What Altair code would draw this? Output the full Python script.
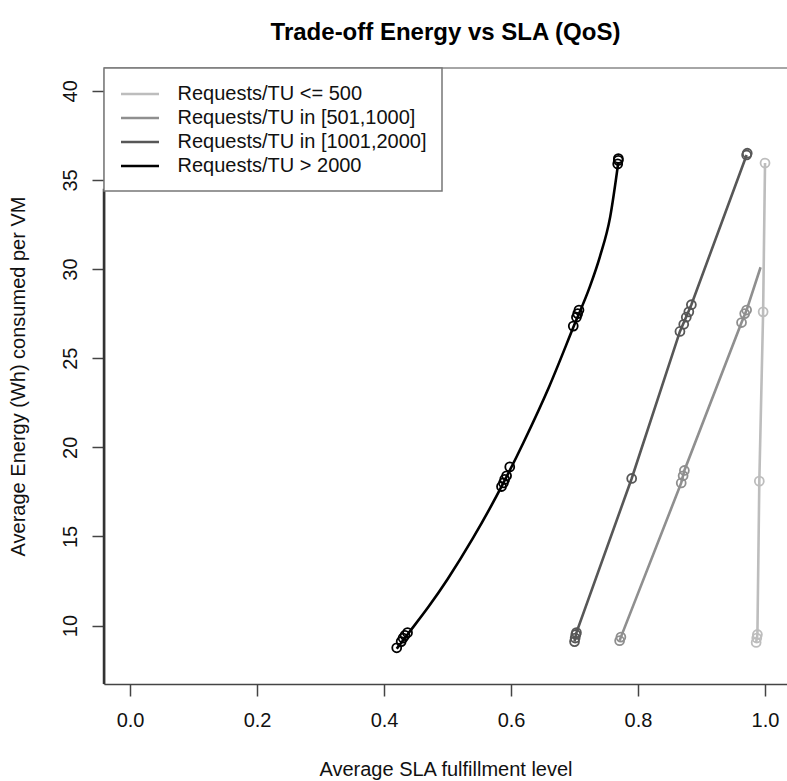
import altair as alt
import pandas as pd

FONT = "Liberation Sans"

SERIES = ["Requests/TU <= 500", "Requests/TU in [501,1000]",
          "Requests/TU in [1001,2000]", "Requests/TU > 2000"]
COLORS = ["#bdbdbd", "#8f8f8f", "#575757", "#000000"]

# fitted curves (x = SLA fulfillment, y = energy Wh)
LINE_LE500_X = [0.986, 0.988, 0.991, 0.997, 1.000]
LINE_LE500_Y = [9.05, 9.5, 18.1, 27.6, 35.95]
LINE_501_X = [0.771, 0.773, 0.868, 0.873, 0.963, 0.971, 0.993]
LINE_501_Y = [9.15, 9.35, 18.0, 18.7, 27.0, 27.7, 30.1]
LINE_1001_X = [0.700, 0.703, 0.790, 0.866, 0.884, 0.971]
LINE_1001_Y = [9.1, 9.6, 18.25, 26.5, 28.0, 36.4]
LINE_GT2000_X = [0.420, 0.437, 0.47, 0.50, 0.54, 0.588, 0.62, 0.66, 0.70, 0.724, 0.740, 0.756, 0.769]
LINE_GT2000_Y = [8.7, 9.5, 11.05, 12.6, 14.9, 18.0, 20.3, 23.4, 26.9, 29.0, 30.7, 32.9, 36.0]

# observed points
PTS_LE500_X = [0.986, 0.987, 0.988, 0.991, 0.997, 1.000]
PTS_LE500_Y = [9.05, 9.3, 9.5, 18.1, 27.6, 35.95]
PTS_501_X = [0.771, 0.773, 0.868, 0.871, 0.873, 0.963, 0.968, 0.971]
PTS_501_Y = [9.15, 9.35, 18.0, 18.4, 18.7, 27.0, 27.5, 27.7]
PTS_1001_X = [0.700, 0.701, 0.702, 0.703, 0.790, 0.866, 0.872, 0.876, 0.880, 0.884, 0.971, 0.972]
PTS_1001_Y = [9.1, 9.3, 9.5, 9.6, 18.25, 26.5, 26.9, 27.3, 27.6, 28.0, 36.4, 36.5]
PTS_GT2000_X = [0.420, 0.427, 0.430, 0.433, 0.437, 0.585, 0.588, 0.590, 0.593, 0.598,
                0.698, 0.703, 0.705, 0.707, 0.768, 0.769, 0.769]
PTS_GT2000_Y = [8.75, 9.1, 9.3, 9.45, 9.6, 17.8, 18.0, 18.2, 18.4, 18.9,
                26.8, 27.3, 27.5, 27.7, 35.9, 36.1, 36.2]

X_DOMAIN = [-0.041, 1.0346]
Y_DOMAIN = [6.72, 41.28]
X_TICKS = [0.0, 0.2, 0.4, 0.6, 0.8, 1.0]
Y_TICKS = [10, 15, 20, 25, 30, 35, 40]
EDGE_Y = [6.72, 34.5]


def frame(xs, ys, name):
    return pd.DataFrame({"sla": xs, "energy": ys, "series": name, "seq": range(len(xs))})


lines_straight = pd.concat([
    frame(LINE_LE500_X, LINE_LE500_Y, SERIES[0]),
    frame(LINE_501_X, LINE_501_Y, SERIES[1]),
    frame(LINE_1001_X, LINE_1001_Y, SERIES[2]),
])
lines_curved = frame(LINE_GT2000_X, LINE_GT2000_Y, SERIES[3])
points = pd.concat([
    frame(PTS_LE500_X, PTS_LE500_Y, SERIES[0]),
    frame(PTS_501_X, PTS_501_Y, SERIES[1]),
    frame(PTS_1001_X, PTS_1001_Y, SERIES[2]),
    frame(PTS_GT2000_X, PTS_GT2000_Y, SERIES[3]),
])
edge = pd.DataFrame({"sla": [X_DOMAIN[0]] * 2, "energy": EDGE_Y})
top = pd.DataFrame({"energy": [Y_DOMAIN[1]]})

x_enc = alt.X("sla:Q", title="Average SLA fulfillment level",
              scale=alt.Scale(domain=X_DOMAIN, nice=False, zero=False),
              axis=alt.Axis(values=X_TICKS, format=".1f", grid=False,
                            tickSize=12, tickWidth=1.5, tickColor="#444",
                            domainColor="#444", domainWidth=1.5,
                            labelFont=FONT, labelFontSize=20, labelColor="#111",
                            labelPadding=14, labelFlush=False, labelOverlap=False,
                            titleFont=FONT, titleFontSize=20, titleFontWeight="normal",
                            titleColor="#111", titleY=85, titleBaseline="middle"))
y_enc = alt.Y("energy:Q", title="Average Energy (Wh) consumed per VM",
              scale=alt.Scale(domain=Y_DOMAIN, nice=False, zero=False),
              axis=alt.Axis(values=Y_TICKS, format="d", grid=False,
                            tickSize=12, tickWidth=1.5, tickColor="#444",
                            domainColor="#444", domainWidth=1.5,
                            labelFont=FONT, labelFontSize=20, labelColor="#111",
                            labelAngle=270, labelAlign="center", labelBaseline="middle",
                            labelPadding=22, labelFlush=False, labelOverlap=False,
                            titleFont=FONT, titleFontSize=20, titleFontWeight="normal",
                            titleColor="#111", titleX=-86, titleY=308,
                            titleBaseline="middle", titleAngle=270))

color_scale = alt.Scale(domain=SERIES, range=COLORS)
legend = alt.Legend(orient="none", legendX=0, legendY=0, title=None,
                    symbolType="M-2,0H2", symbolSize=361, symbolStrokeWidth=2.5,
                    labelFont=FONT, labelFontSize=20, labelColor="#111",
                    labelLimit=400, fillColor="white",
                    strokeColor="#777", padding=15, rowPadding=3,
                    symbolOffset=10, labelOffset=26.5)

line_layer = alt.Chart(lines_straight).mark_line(strokeWidth=2.6).encode(
    x=x_enc, y=y_enc,
    color=alt.Color("series:N", scale=color_scale, sort=SERIES, legend=legend),
    order="seq:Q",
)
curve_layer = alt.Chart(lines_curved).mark_line(strokeWidth=2.6, interpolate="monotone").encode(
    x="sla:Q", y="energy:Q",
    color=alt.Color("series:N", scale=color_scale, sort=SERIES),
    order="seq:Q",
)

point_layer = alt.Chart(points).mark_point(shape="circle", filled=False, size=80,
                                           strokeWidth=1.8, opacity=1).encode(
    x="sla:Q", y="energy:Q",
    color=alt.Color("series:N", scale=color_scale, sort=SERIES),
)

edge_layer = alt.Chart(edge).mark_line(color="#333", strokeWidth=2.5).encode(
    x="sla:Q", y="energy:Q")

top_layer = alt.Chart(top).mark_rule(color="#888", strokeWidth=1.5).encode(y="energy:Q")

chart = alt.layer(top_layer, edge_layer, line_layer, curve_layer, point_layer).properties(
    width=683, height=616,
    padding={"left": 104, "top": 68, "right": 0, "bottom": 97},
    autosize=alt.AutoSizeParams(type="none"),
    title=alt.TitleParams("Trade-off Energy vs SLA (QoS)", font=FONT, fontSize=24,
                          fontWeight="bold", color="#000", anchor="middle",
                          baseline="alphabetic", offset=3),
).configure_view(stroke=None).configure_legend(strokeWidth=1.5)

chart.save("out.html", embed_options={"renderer": "svg", "actions": False})
